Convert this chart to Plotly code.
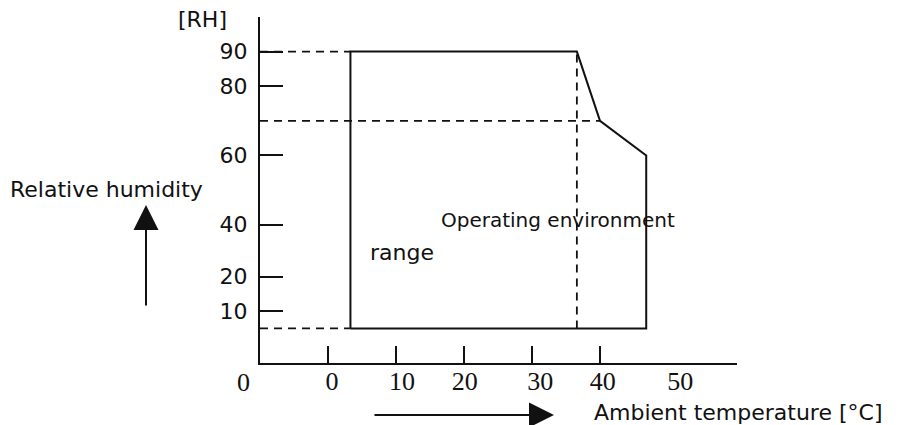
import plotly.graph_objects as go

# ---- data ----
envelope_temp = [3.3, 3.3, 36.6, 40, 46.8, 46.8, 3.3]
envelope_rh = [10, 90, 90, 70, 60, 10, 10]

rh_max = 90
rh_break = 70
rh_min = 10
temp_left = 3.3
temp_knee = 36.6
temp_break = 40

temp_tick_marks = [0, 10, 20, 30, 40]
temp_label_pos = [-12.5, 0.6, 10.9, 20.1, 31.2, 40.4, 51.8]
temp_label_text = ["0", "0", "10", "20", "30", "40", "50"]

rh_tick_pos = [90, 80, 60, 40, 25, 15]
rh_tick_text = ["90", "80", "60", "40", "20", "10"]

x_range = [-10, 60.15]
y_range = [0, 100]

SANS = "DejaVu Sans"
SERIF = "Liberation Serif"
INK = "#111111"

fig = go.Figure()

# operating envelope (solid)
fig.add_trace(go.Scatter(x=envelope_temp, y=envelope_rh, mode="lines",
                         line=dict(color=INK, width=2), hoverinfo="skip",
                         showlegend=False, cliponaxis=False))

dash = dict(color=INK, width=1.8, dash="8px,6px")
# dashed guides
fig.add_trace(go.Scatter(x=[x_range[0], temp_left], y=[rh_max, rh_max], mode="lines",
                         line=dash, showlegend=False, hoverinfo="skip"))
fig.add_trace(go.Scatter(x=[x_range[0], temp_left], y=[rh_min, rh_min], mode="lines",
                         line=dash, showlegend=False, hoverinfo="skip"))
fig.add_trace(go.Scatter(x=[x_range[0], temp_break], y=[rh_break, rh_break], mode="lines",
                         line=dash, showlegend=False, hoverinfo="skip"))
fig.add_trace(go.Scatter(x=[temp_knee, temp_knee], y=[rh_min, rh_max], mode="lines",
                         line=dash, showlegend=False, hoverinfo="skip"))

# invisible trace on overlay axis for x tick labels
fig.add_trace(go.Scatter(x=[x_range[0]], y=[y_range[0]], xaxis="x2", mode="markers",
                         marker=dict(opacity=0), showlegend=False, hoverinfo="skip"))

# labels inside the axis range go on the overlay axis; the one left of the origin is an annotation
in_pos = [p for p in temp_label_pos if p >= x_range[0]]
in_txt = [t for p, t in zip(temp_label_pos, temp_label_text) if p >= x_range[0]]
out_pos = [p for p in temp_label_pos if p < x_range[0]]
out_txt = [t for p, t in zip(temp_label_pos, temp_label_text) if p < x_range[0]]

# page body has an 8px margin: figure is 8px smaller and margins shifted
fig.update_layout(
    width=891, height=417,
    margin=dict(l=252, r=162, t=9, b=62),
    paper_bgcolor="white", plot_bgcolor="white",
    xaxis=dict(range=x_range, showgrid=False, zeroline=False, showline=True,
               linecolor=INK, linewidth=2, tickmode="array", tickvals=temp_tick_marks,
               ticks="inside", ticklen=17, tickwidth=2, tickcolor=INK,
               showticklabels=False),
    xaxis2=dict(range=x_range, overlaying="x", anchor="y", side="bottom",
                showgrid=False, zeroline=False, showline=False,
                tickmode="array", tickvals=in_pos, ticktext=in_txt,
                ticks="", tickfont=dict(family=SERIF, size=26, color=INK)),
    yaxis=dict(range=y_range, showgrid=False, zeroline=False, showline=True,
               linecolor=INK, linewidth=2, tickmode="array", tickvals=rh_tick_pos,
               ticktext=rh_tick_text, ticks="inside", ticklen=23, tickwidth=2,
               tickcolor=INK, ticklabelstandoff=6,
               tickfont=dict(family=SANS, size=22, color=INK)),
)

W = 477.0
H = 346.0
def px(xp):
    return (xp - 260) / W
def py(yp):
    return (363 - yp) / H

# data value -> paper fraction along x
def xfrac(v):
    return (v - x_range[0]) / (x_range[1] - x_range[0])

for p, t in zip(out_pos, out_txt):
    fig.add_annotation(text=t, x=xfrac(p), xref="paper", y=py(382), yref="paper",
                       xanchor="center", yanchor="middle", showarrow=False,
                       font=dict(family=SERIF, size=26, color=INK))

def txt(text, x, y, xanchor="center", size=22, family=SANS):
    fig.add_annotation(text=text, x=x, y=y, xref="paper", yref="paper",
                       xanchor=xanchor, yanchor="middle", showarrow=False,
                       font=dict(family=family, size=size, color=INK))

txt("[RH]", px(229), py(19), xanchor="right")
txt("Relative humidity", px(106), py(189))
txt("Operating environment", px(439), py(220), xanchor="left", size=20)
txt("range", px(368), py(252), xanchor="left")
txt("Ambient temperature [°C]", px(592), py(412), xanchor="left")

# arrows
fig.add_annotation(x=px(146), y=py(205), xref="paper", yref="paper", text="",
                   showarrow=True, ax=0, ay=102, axref="pixel", ayref="pixel",
                   arrowhead=2, arrowsize=2.5, arrowwidth=2, arrowcolor=INK)
fig.add_annotation(x=px(554), y=py(415), xref="paper", yref="paper", text="",
                   showarrow=True, ax=-181, ay=0, axref="pixel", ayref="pixel",
                   arrowhead=2, arrowsize=2.5, arrowwidth=2, arrowcolor=INK)

fig.write_html("out.html")
